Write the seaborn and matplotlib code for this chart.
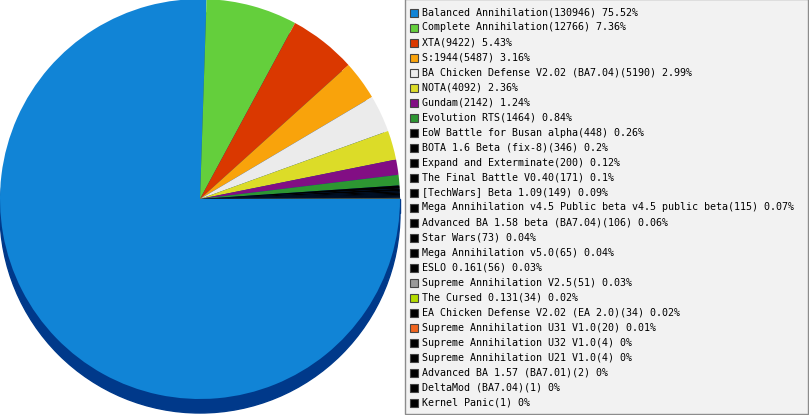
import matplotlib
matplotlib.use("Agg")
import matplotlib.pyplot as plt
import seaborn as sns
from matplotlib.patches import Rectangle, Circle

# mod names and game counts, as listed in the legend
mods = [
    "Balanced Annihilation", "Complete Annihilation", "XTA", "S:1944",
    "BA Chicken Defense V2.02 (BA7.04)", "NOTA", "Gundam", "Evolution RTS",
    "EoW Battle for Busan alpha", "BOTA 1.6 Beta (fix-8)", "Expand and Exterminate",
    "The Final Battle V0.40", "[TechWars] Beta 1.09",
    "Mega Annihilation v4.5 Public beta v4.5 public beta",
    "Advanced BA 1.58 beta (BA7.04)", "Star Wars", "Mega Annihilation v5.0",
    "ESLO 0.161", "Supreme Annihilation V2.5", "The Cursed 0.131",
    "EA Chicken Defense V2.02 (EA 2.0)", "Supreme Annihilation U31 V1.0",
    "Supreme Annihilation U32 V1.0", "Supreme Annihilation U21 V1.0",
    "Advanced BA 1.57 (BA7.01)", "DeltaMod (BA7.04)", "Kernel Panic",
]
games = [130946, 12766, 9422, 5487, 5190, 4092, 2142, 1464, 448, 346, 200,
         171, 149, 115, 106, 73, 65, 56, 51, 34, 34, 20, 4, 4, 2, 1, 1]
colors = ["#1184d6", "#64cf3c", "#da3800", "#f9a30b", "#ebebeb", "#dcdc28",
          "#820e84", "#2d9632", "#000000", "#000000", "#000000", "#000000",
          "#000000", "#000000", "#000000", "#000000", "#000000", "#000000",
          "#9a9a9a", "#b4dc00", "#000000", "#f0641e", "#000000", "#000000",
          "#000000", "#000000", "#000000"]

W, H = 809, 415
sns.set_style("white")

fig = plt.figure(figsize=(W / 100, H / 100), dpi=100)
ax = fig.add_axes([0, 0, 1, 1])
ax.set_xlim(0, W)
ax.set_ylim(0, H)
ax.axis("off")

# pie in pixel coordinates (y up)
cx, cy, r, depth = 200, H - 199, 200, 14

# 3d side of the pie
ax.add_patch(Circle((cx, cy - depth), r, color="#00398a", zorder=1))
ax.add_patch(Rectangle((cx - r, cy - depth), 2 * r, depth, color="#00398a", zorder=1))

wedges, _ = ax.pie(games, colors=colors, startangle=0, counterclock=False,
                   center=(cx, cy), radius=r, frame=True,
                   wedgeprops=dict(linewidth=0))
for w in wedges:
    w.set_zorder(2)
ax.set_xlim(0, W)
ax.set_ylim(0, H)
ax.set_aspect("auto")
ax.axis("off")

# legend box
total = sum(games)
ax.add_patch(Rectangle((405.5, H - 413.5), 403, 414, facecolor="#f2f2f2",
                       edgecolor="#8c8c8c", linewidth=1, zorder=3))
for i, (name, n, c) in enumerate(zip(mods, games, colors)):
    y = H - (12.5 + 15 * i)
    ax.add_patch(Rectangle((410.5, y - 4.5), 8, 8, facecolor=c,
                           edgecolor="#444444", linewidth=0.8, zorder=4))
    pct = f"{round(100 * n / total, 2):g}"
    ax.text(422, y, f"{name}({n}) {pct}%", fontsize=7.2,
            family="DejaVu Sans Mono", va="center", ha="left", zorder=5,
            color="#000000")

fig.savefig("out.png", dpi=100)
